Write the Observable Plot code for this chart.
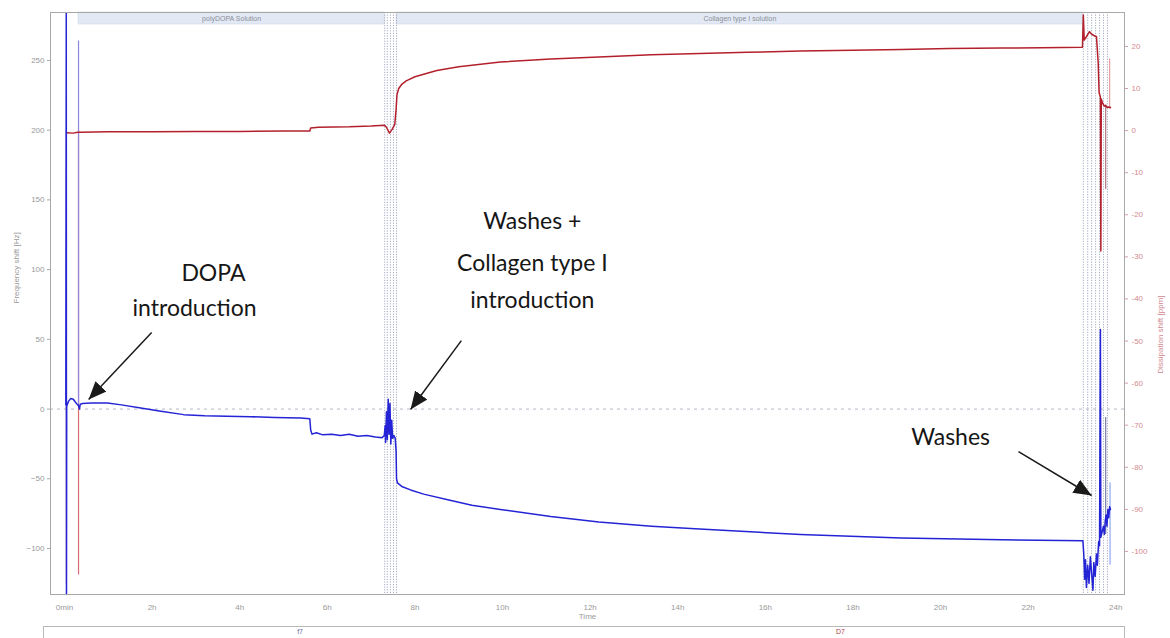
<!DOCTYPE html>
<html>
<head>
<meta charset="utf-8">
<script src="https://cdn.jsdelivr.net/npm/d3@7"></script>
<script src="https://cdn.jsdelivr.net/npm/@observablehq/plot@0.6"></script>
<style>
  body { margin: 0; background: #fff; font-family: "Liberation Sans", Arial, sans-serif; }
  #wrap { position: relative; width: 1170px; height: 638px; overflow: hidden; background: #fff; }
  #legend { position: absolute; left: 43px; top: 626px; width: 1082px; height: 40px; border: 1px solid #b8b8b8; box-sizing: border-box; font-size: 7px; line-height: 8px; }
  #legend span { position: absolute; top: 1px; }
</style>
</head>
<body>
<div id="wrap">
  <div id="chart"></div>
  <div id="legend"><span id="lf" style="color:#6a6aa8">f7</span><span id="ld" style="color:#b04048">D7</span></div>
</div>
<script>
// ---------- data ----------
// Frequency shift (Hz), 7th overtone, vs time (hours)
const freqTime = [0.03,0.04,0.045,0.05,0.09,0.14,0.2,0.26,0.3,0.32,0.34,0.36,0.41,0.6,0.98,1.3,1.74,2.2,2.72,3.2,3.7,4.25,4.8,5.39,5.6,5.62,5.65,5.75,5.9,6.1,6.3,6.5,6.7,6.9,7.1,7.25,7.3,7.32,7.33,7.35,7.37,7.39,7.41,7.43,7.45,7.47,7.49,7.52,7.55,7.57,7.58,7.6,7.7,7.9,8.2,8.75,9.3,9.95,11.1,12.2,13.4,14.5,16.8,19.1,21.4,23.25,23.27,23.29,23.31,23.33,23.36,23.39,23.42,23.45,23.48,23.5,23.53,23.56,23.58,23.61,23.63,23.65,23.66,23.69,23.72,23.74,23.76,23.78,23.8,23.82,23.84,23.86,23.88];
const freqValue = [3,284,-133,2,5.5,7.5,7,4.5,3,2.5,0,3.5,4,4.3,4.3,3,0.8,-1.5,-4,-4.8,-5.2,-5.5,-6,-6.5,-7,-15,-18,-17,-18.5,-18,-19,-18,-19.5,-19,-20,-20.5,-19,-12,-24,-2,-22,7,-18,4,-25,-8,-21,-19,-21,-30,-50,-53,-55.5,-58,-61,-65,-69,-72,-77,-81,-84,-86,-90,-92.4,-93.8,-94.5,-104,-122,-108,-128,-112,-125,-106,-118,-130,-110,-120,-104,-112,-95,-98,57,-92,-88,-84,-90,-80,-76,-84,-72,-78,-70,-72];

// Dissipation shift (ppm), 7th overtone, vs time (hours)
const dissTime = [0.05,0.2,0.3,0.36,1,2,3,4,5,5.6,5.62,5.8,6.5,7.0,7.3,7.35,7.42,7.48,7.54,7.57,7.59,7.63,7.7,7.8,8,8.5,9,9.95,11.1,12.2,13.4,14.5,15.6,16.8,18,19.1,20.2,21.4,22.3,23.24,23.26,23.28,23.33,23.4,23.44,23.5,23.56,23.6,23.62,23.65,23.66,23.67,23.7,23.74,23.77,23.8,23.84,23.88];
const dissValue = [-0.5,-0.6,-0.4,-0.4,-0.3,-0.3,-0.2,-0.2,-0.1,-0.1,0.6,0.8,0.9,1.1,1.3,0.8,-0.6,0.3,1.5,5,8.5,10,11,11.8,12.8,14.3,15.2,16.3,17,17.5,18,18.3,18.6,18.9,19.1,19.3,19.5,19.6,19.7,19.8,27.5,21.5,22.3,23.5,23,22.6,22.3,16,9,8,-28.6,7.5,6.5,5.8,6,5.5,5.6,5.5];

// transient spikes (instrument artefacts)
const freqSpikeTime = [0.32, 23.77, 23.87];
const freqSpikeLow  = [3, -90, -112];
const freqSpikeHigh = [264, -6, -53];
const dissSpikeTime = [0.04, 0.32, 23.77, 23.86];
const dissSpikeLow  = [-108, -105.6, -14, 5];
const dissSpikeHigh = [0, 0, 6, 17];

// event markers and solution phases
const eventTimes = [7.31, 7.37, 7.44, 7.51, 7.58, 23.26, 23.36, 23.45, 23.54, 23.63, 23.72, 23.81];
const phaseStart = [0.32, 7.58];
const phaseEnd   = [7.31, 23.26];
const phaseLabel = ["polyDOPA Solution", "Collagen type I solution"];

// axes
const xTicks = [0,2,4,6,8,10,12,14,16,18,20,22,24];
const xTickLabels = ["0min","2h","4h","6h","8h","10h","12h","14h","16h","18h","20h","22h","24h"];
const fTicks = [-100,-50,0,50,100,150,200,250];
const dTicks = [20,10,0,-10,-20,-30,-40,-50,-60,-70,-80,-90,-100];

// annotations (data coordinates: hours, Hz)
const noteText = ["DOPA", "introduction", "Washes +", "Collagen type I", "introduction", "Washes"];
const noteX = [3.40, 2.97, 10.68, 10.68, 10.68, 20.23];
const noteY = [97.3, 72.0, 134.4, 104.4, 77.9, -20.4];
const arrowX1 = [1.99, 9.06, 21.78];
const arrowY1 = [54.9, 49.1, -30.5];
const arrowX2 = [0.55, 7.90, 23.45];
const arrowY2 = [6.9, -0.3, -62.0];

// ---------- build ----------
const xDomain = [-0.32, 24.2];
const yDomain = [-133, 284.4];
const dToF = d => 199.7 + 3.018 * d;   // right-axis (ppm) mapped onto left scale (Hz)

const freq = freqTime.map((t, i) => ({t, v: freqValue[i]}));
const diss = dissTime.map((t, i) => ({t, v: dToF(dissValue[i])}));
const fSpikes = freqSpikeTime.map((t, i) => ({t, lo: freqSpikeLow[i], hi: freqSpikeHigh[i], k: i}));
const dSpikes = dissSpikeTime.map((t, i) => ({t, lo: dToF(dissSpikeLow[i]), hi: dToF(dissSpikeHigh[i]), k: i}));
const bandBottom = yDomain[1] - (yDomain[1] - yDomain[0]) * 12 / 582;
const phases = phaseStart.map((s, i) => ({s, e: phaseEnd[i], label: phaseLabel[i]}));
const notes = noteText.map((text, i) => ({text, x: noteX[i], y: noteY[i]}));
const arrows = arrowX1.map((x1, i) => ({x1, y1: arrowY1[i], x2: arrowX2[i], y2: arrowY2[i]}));

const fSpikeColors = ["#8c86e0", "#7a80a8", "#8fa8f0"];
const dSpikeColors = ["#e6a8b0", "#d86a72", "#b07a80", "#e8a0a8"];

const chart = Plot.plot({
  width: 1170,
  height: 622,
  marginLeft: 50,
  marginRight: 46,
  marginTop: 12,
  marginBottom: 28,
  x: {domain: xDomain},
  y: {domain: yDomain},
  style: {fontFamily: "Liberation Sans, Arial, sans-serif", fontSize: "8px", color: "#999", background: "#fff", overflow: "visible"},
  marks: [
    Plot.rect(phases, {x1: "s", x2: "e", y1: bandBottom, y2: yDomain[1], fill: "#e2e9f4", stroke: "#cdd8e8", strokeWidth: 0.6}),
    Plot.text(phases, {x: d => (d.s + d.e) / 2, y: (bandBottom + yDomain[1]) / 2, text: "label", fill: "#8a8f98", fontSize: 7}),
    Plot.ruleY([0], {stroke: "#b4b8c8", strokeDasharray: "3,4", strokeWidth: 1}),
    Plot.ruleX(eventTimes, {stroke: "#9ca2bc", strokeDasharray: "1.2,1.4", strokeWidth: 0.9}),
    Plot.ruleX(dSpikes, {x: "t", y1: "lo", y2: "hi", stroke: d => dSpikeColors[d.k], strokeWidth: 1.2}),
    Plot.ruleX(fSpikes, {x: "t", y1: "lo", y2: "hi", stroke: d => fSpikeColors[d.k], strokeWidth: 1.2}),
    Plot.line(diss, {x: "t", y: "v", stroke: "#b3202c", strokeWidth: 1.5}),
    Plot.line(freq, {x: "t", y: "v", stroke: "#2424d6", strokeWidth: 1.5}),
    Plot.frame({stroke: "#a8a8a8", strokeWidth: 1}),
    Plot.axisX(xTicks, {tickSize: 0, tickPadding: 10, tickFormat: d => xTickLabels[xTicks.indexOf(d)], label: null, fill: "#999"}),
    Plot.axisY(fTicks, {anchor: "left", tickSize: 3, tickPadding: 3, label: null, fill: "#999", stroke: "#aaa"}),
    Plot.axisY(dTicks.map(dToF), {anchor: "right", tickSize: 3, tickPadding: 4, label: null, tickFormat: f => String(dTicks[dTicks.map(dToF).indexOf(f)]), fill: "#d48a90", stroke: "#d0a0a4"}),
    Plot.text(["Time"], {frameAnchor: "bottom", dy: 24, fill: "#999", fontSize: 8}),
    Plot.text(["Frequency shift [Hz]"], {frameAnchor: "left", dx: -34, rotate: -90, fill: "#999", fontSize: 8}),
    Plot.text(["Dissipation shift [ppm]"], {frameAnchor: "right", dx: 36, dy: -8, rotate: -90, fill: "#d08890", fontSize: 8}),
    Plot.text(notes, {x: "x", y: "y", text: "text", fill: "#161616", fontSize: 23, fontFamily: "Lato, 'Open Sans', sans-serif"}),
    Plot.link(arrows, {x1: "x1", y1: "y1", x2: "x2", y2: "y2", stroke: "#1a1a1a", strokeWidth: 1.5, markerEnd: "arrow"})
  ]
});
document.getElementById("chart").appendChild(chart);

// make the arrowheads solid triangles
chart.querySelectorAll("marker").forEach(m => {
  m.setAttribute("viewBox", "-10 -5 10 10");
  m.setAttribute("markerWidth", "12");
  m.setAttribute("markerHeight", "12");
  m.setAttribute("fill", "#1a1a1a");
  m.setAttribute("stroke", "none");
  const p = m.querySelector("path");
  if (p) p.setAttribute("d", "M-10,-4.2L0,0L-10,4.2Z");
});

// legend label positions from the x scale
const xs = chart.scale("x");
const px = v => (xs.apply ? xs.apply(v) : 0);
document.getElementById("lf").style.left = (px(5.3) - 43) + "px";
document.getElementById("ld").style.left = (px(17.6) - 43) + "px";
</script>
</body>
</html>
